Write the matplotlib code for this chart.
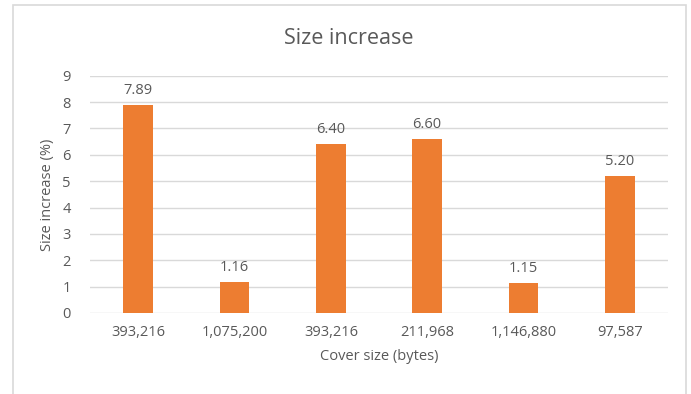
import matplotlib
matplotlib.use("Agg")
import matplotlib.pyplot as plt
from matplotlib.patches import Rectangle

categories = ["393,216", "1,075,200", "393,216", "211,968", "1,146,880", "97,587"]
values = [7.89, 1.16, 6.40, 6.60, 1.15, 5.20]
value_labels = ["7.89", "1.16", "6.40", "6.60", "1.15", "5.20"]
yticks = [0, 1, 2, 3, 4, 5, 6, 7, 8, 9]

plt.rcParams['font.family'] = ['Open Sans', 'DejaVu Sans']
gray = "#595959"

fig = plt.figure(figsize=(6.91, 3.94), dpi=100)
W, H = 691, 394
x0, x1 = 90, 668
y9, y0 = 75.7, 313
ax = fig.add_axes([x0 / W, 1 - y0 / H, (x1 - x0) / W, (y0 - y9) / H])

x = list(range(len(categories)))
ax.bar(x, values, width=0.31, color="#ED7D31", zorder=3)
ax.set_xlim(-0.5, len(categories) - 0.5)
ax.set_ylim(0, 9)
ax.set_yticks(yticks)
ax.set_yticklabels([str(t) for t in yticks])
ax.set_xticks(x)
ax.set_xticklabels(categories)
ax.grid(axis="y", color="#d9d9d9", linewidth=1, zorder=0)
for s in ax.spines.values():
    s.set_visible(False)
ax.tick_params(length=0, colors=gray, labelsize=10.5)
ax.tick_params(axis="y", pad=14)
ax.tick_params(axis="x", pad=9)
for xi, v, lab in zip(x, values, value_labels):
    ax.annotate(lab, (xi, v), xytext=(0, 5), textcoords="offset points",
                ha="center", va="bottom", color=gray, fontsize=10.5)

ax.set_xlabel("Cover size (bytes)", color=gray, fontsize=10.5, labelpad=6)
ax.set_ylabel("Size increase (%)", color=gray, fontsize=10.5, labelpad=5)
fig.text(349 / W, 1 - 38 / H, "Size increase", ha="center", va="center",
         color=gray, fontsize=15.5)

fig.patches.append(Rectangle((13.5 / W, -0.1), (686 - 13.5) / W, 1.1 - 5.5 / H,
                             transform=fig.transFigure, fill=False,
                             edgecolor="#d9d9d9", linewidth=1.2))

fig.savefig("out.png", dpi=100)
